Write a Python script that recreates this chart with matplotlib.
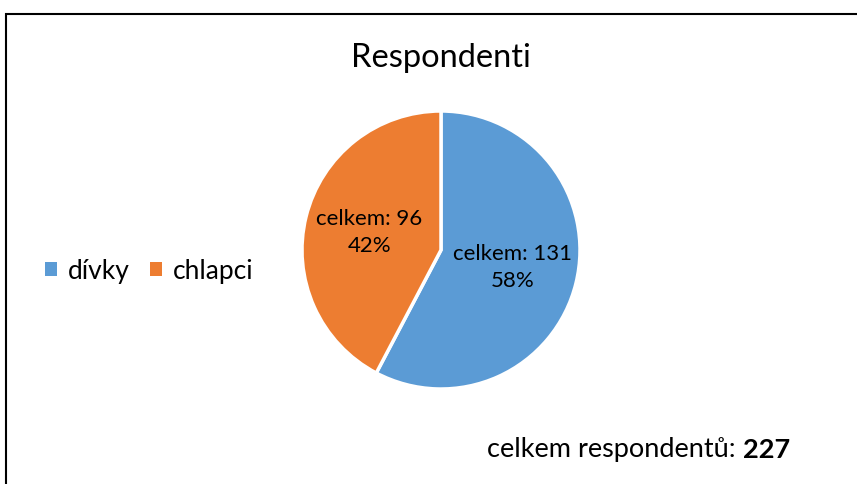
import matplotlib.pyplot as plt
from matplotlib.patches import Rectangle, Patch

labels = ["dívky", "chlapci"]
counts = [131, 96]
colors = ["#5b9bd5", "#ed7d31"]
title = "Respondenti"
total_label = "celkem respondentů: "

W, H = 857, 484
plt.rcParams["font.family"] = ["Lato", "DejaVu Sans"]

fig = plt.figure(figsize=(W / 100, H / 100), dpi=100)

# chart frame (right and bottom edges run off the picture)
fig.add_artist(Rectangle((6 / W, -0.1), 1.2, (H - 14) / H + 0.1,
                         transform=fig.transFigure, fill=False,
                         edgecolor="black", linewidth=1.5))

# pie placed by pixel centre and radius
cx, cy, r = 441, 250, 139
ax = fig.add_axes([(cx - r) / W, (H - cy - r) / H, 2 * r / W, 2 * r / H])
total = sum(counts)

def fmt(pct):
    n = int(round(pct * total / 100))
    return f"celkem: {n}\n{pct:.0f}%"

wedges, texts, autotexts = ax.pie(
    counts, colors=colors, startangle=90, counterclock=False,
    autopct=fmt, pctdistance=0.53,
    wedgeprops=dict(edgecolor="white", linewidth=2.5),
    textprops=dict(fontsize=16, color="black", linespacing=1.45))
ax.set_xlim(-1, 1)
ax.set_ylim(-1, 1)
ax.set_aspect("equal")

fig.text(cx / W, 1 - 58 / H, title, ha="center", va="center", fontsize=23.5)

handles = [Patch(facecolor=c, edgecolor="none") for c in colors]
fig.legend(handles, labels, loc="center left", bbox_to_anchor=(45 / W, 1 - 271 / H),
           ncol=2, frameon=False, fontsize=19, handlelength=0.45, handleheight=0.45,
           handletextpad=0.42, columnspacing=0.76, borderaxespad=0, borderpad=0)

t = fig.text(487 / W, 1 - 450 / H, total_label, ha="left", va="center", fontsize=19.5)
fig.canvas.draw()
bb = t.get_window_extent()
fig.text(bb.x1 / W, 1 - 450 / H, str(total), ha="left", va="center",
         fontsize=19.5, fontweight="bold")

fig.savefig("out.png", dpi=100)
